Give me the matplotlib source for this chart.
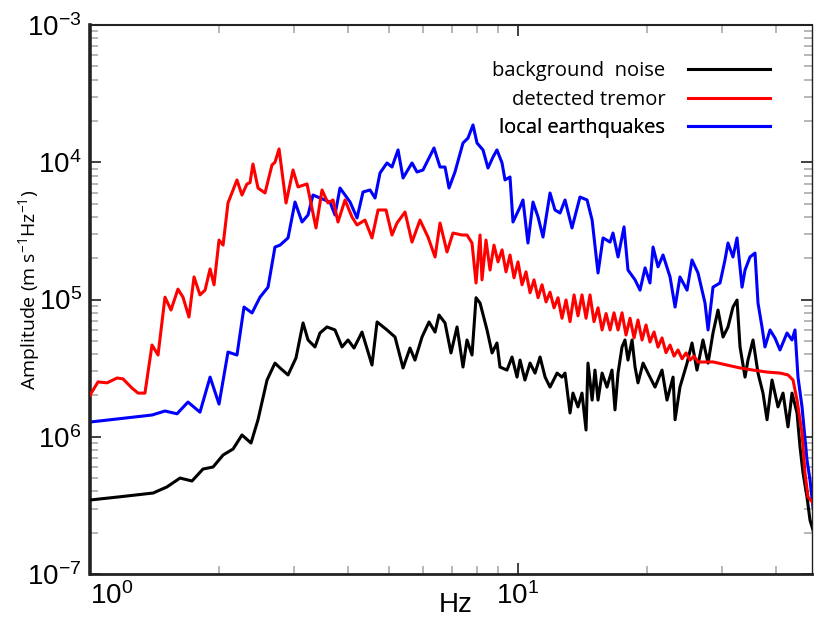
import numpy as np
import matplotlib
matplotlib.use('Agg')
import matplotlib.pyplot as plt
from matplotlib.ticker import FixedLocator, FixedFormatter, LogLocator, NullFormatter

# spectra (Hz, m s^-1 Hz^-1)
noise_hz = [1.00, 1.163, 1.404, 1.513, 1.623, 1.731, 1.837, 1.939, 2.046, 2.159,
            2.265, 2.378, 2.469, 2.592, 2.705, 2.780, 2.902, 3.029, 3.146, 3.232,
            3.355, 3.446, 3.579, 3.736, 3.880, 4.007, 4.139, 4.320, 4.559, 4.685,
            4.942, 5.160, 5.388, 5.593, 5.745, 5.967, 6.196, 6.400, 6.538, 6.753,
            6.973, 7.204, 7.438, 7.600, 7.808, 7.979,
            8.153, 8.465, 8.697, 8.930, 9.076, 9.425, 9.683, 9.947, 10.11, 10.38,
            10.67, 10.96, 11.26, 11.57, 11.88, 12.34, 12.67, 12.88, 13.23, 13.44,
            13.81, 14.11, 14.42, 14.57, 14.90, 15.13, 15.38, 15.72, 16.14, 16.58,
            16.85, 17.13, 17.50, 17.78, 18.07, 18.47, 18.77, 19.07, 19.60, 20.12,
            20.90, 21.70, 22.29, 23.03, 23.28, 23.90, 24.83, 25.50, 26.19, 27.05,
            27.80, 28.55, 29.33, 30.13, 30.95, 31.79, 32.49, 33.02, 33.92, 34.46,
            35.41, 36.37, 37.36, 38.18, 39.22, 40.50, 41.61, 42.74, 43.67, 44.87,
            45.60, 46.34, 47.34, 48.11, 48.90]
noise_amp = [3.46e-7, 3.64e-7, 3.89e-7, 4.31e-7, 5.00e-7, 4.76e-7, 5.82e-7, 6.02e-7, 7.36e-7, 8.14e-7,
             1.03e-6, 9.00e-7, 1.33e-6, 2.59e-6, 3.44e-6, 3.17e-6, 2.82e-6, 3.75e-6, 6.75e-6, 5.07e-6,
             4.51e-6, 5.70e-6, 6.31e-6, 6.00e-6, 4.51e-6, 5.07e-6, 4.43e-6, 5.79e-6, 3.33e-6, 6.86e-6,
             6.00e-6, 5.33e-6, 3.17e-6, 4.43e-6, 3.62e-6, 5.33e-6, 6.86e-6, 5.79e-6, 7.71e-6, 6.75e-6,
             4.08e-6, 6.31e-6, 3.22e-6, 5.07e-6, 3.94e-6, 1.03e-5,
             9.43e-6, 6.00e-6, 4.08e-6, 4.82e-6, 3.22e-6, 3.06e-6, 3.81e-6, 2.72e-6, 3.62e-6, 2.59e-6,
             3.44e-6, 2.91e-6, 3.81e-6, 2.72e-6, 2.30e-6, 2.91e-6, 2.72e-6, 2.91e-6, 1.49e-6, 2.08e-6,
             1.65e-6, 2.08e-6, 1.12e-6, 3.44e-6, 1.85e-6, 3.06e-6, 1.85e-6, 2.91e-6, 2.30e-6, 3.06e-6,
             1.57e-6, 2.91e-6, 4.51e-6, 5.07e-6, 3.62e-6, 5.07e-6, 3.22e-6, 2.47e-6, 3.44e-6, 2.91e-6,
             2.30e-6, 3.06e-6, 1.85e-6, 2.72e-6, 1.33e-6, 2.30e-6, 3.44e-6, 4.82e-6, 3.06e-6, 5.07e-6,
             3.44e-6, 5.70e-6, 8.38e-6, 5.33e-6, 6.31e-6, 8.81e-6, 9.91e-6, 4.51e-6, 2.72e-6, 3.62e-6,
             5.07e-6, 2.91e-6, 2.08e-6, 1.33e-6, 2.59e-6, 1.65e-6, 2.08e-6, 1.18e-6, 2.08e-6, 1.49e-6,
             8.42e-7, 5.44e-7, 3.64e-7, 2.47e-7, 2.09e-7]

tremor_hz = [1.00, 1.044, 1.096, 1.157, 1.194, 1.254, 1.295, 1.344, 1.396, 1.442,
             1.497, 1.546, 1.605, 1.649, 1.703, 1.750, 1.807, 1.857, 1.908, 1.949,
             2.002, 2.046, 2.101, 2.205, 2.265, 2.327, 2.365, 2.403, 2.469, 2.564,
             2.662, 2.705, 2.765, 2.871, 2.981, 3.062, 3.214, 3.373, 3.484, 3.598,
             3.697, 3.797, 3.943, 4.094, 4.206, 4.390, 4.559, 4.710, 4.916, 5.077,
             5.216, 5.445, 5.654, 5.902, 6.162, 6.400, 6.574, 6.826, 7.048, 7.400,
             7.600, 7.808, 7.979, 8.153,
             8.239, 8.418, 8.603, 8.788, 8.981, 9.177, 9.376, 9.579, 9.788, 10.00,
             10.22, 10.44, 10.67, 10.90, 11.14, 11.38, 11.63, 11.88, 12.14, 12.40,
             12.67, 12.95, 13.23, 13.52, 13.81, 14.11, 14.42, 14.73, 15.05, 15.38,
             15.72, 16.06, 16.41, 16.76, 17.13, 17.50, 17.88, 18.27, 18.67, 19.07,
             19.49, 19.91, 20.34, 20.79, 21.24, 21.70, 22.17, 22.66, 23.15, 23.65,
             24.17, 24.70, 25.23, 25.78, 26.34,
             28.55, 30.78, 33.02, 35.41, 38.18, 40.94, 42.74, 43.91, 44.87, 46.09,
             46.84, 47.60, 48.90]
tremor_amp = [2.01e-6, 2.51e-6, 2.47e-6, 2.68e-6, 2.64e-6, 2.26e-6, 2.08e-6, 2.08e-6, 4.66e-6, 3.94e-6,
              1.04e-5, 8.38e-6, 1.19e-5, 1.04e-5, 7.45e-6, 1.46e-5, 1.08e-5, 1.17e-5, 1.67e-5, 1.28e-5,
              2.71e-5, 2.49e-5, 5.05e-5, 7.43e-5, 5.77e-5, 6.95e-5, 7.10e-5, 9.71e-5, 6.49e-5, 5.97e-5,
              9.55e-5, 1.00e-4, 1.25e-4, 5.05e-5, 8.78e-5, 6.61e-5, 6.95e-5, 3.32e-5, 6.28e-5, 5.05e-5,
              5.31e-5, 3.67e-5, 5.31e-5, 3.99e-5, 3.49e-5, 3.79e-5, 2.81e-5, 4.49e-5, 4.49e-5, 2.95e-5,
              3.61e-5, 4.34e-5, 2.62e-5, 3.79e-5, 2.85e-5, 2.04e-5, 3.61e-5, 2.22e-5, 3.05e-5, 2.95e-5,
              2.95e-5, 2.58e-5, 1.32e-5, 2.95e-5,
              1.39e-5, 2.71e-5, 1.64e-5, 2.49e-5, 1.88e-5, 2.30e-5, 1.59e-5, 2.11e-5, 1.44e-5, 1.88e-5,
              1.28e-5, 1.59e-5, 1.12e-5, 1.39e-5, 1.03e-5, 1.28e-5, 9.6e-6, 1.13e-5, 8.7e-6, 1.03e-5,
              7.3e-6, 9.92e-6, 6.9e-6, 1.08e-5, 7.6e-6, 1.08e-5, 7.3e-6, 1.08e-5, 6.9e-6, 8.7e-6,
              6.0e-6, 7.9e-6, 6.0e-6, 8.0e-6, 6.0e-6, 8.0e-6, 5.51e-6, 7.3e-6, 5.25e-6, 7.09e-6,
              5.07e-6, 6.52e-6, 4.9e-6, 5.8e-6, 4.5e-6, 5.25e-6, 4.1e-6, 4.66e-6, 3.87e-6, 4.29e-6,
              3.7e-6, 4.08e-6, 3.62e-6, 3.87e-6, 3.5e-6,
              3.51e-6, 3.33e-6, 3.17e-6, 3.06e-6, 2.96e-6, 2.91e-6, 2.82e-6, 2.59e-6, 1.85e-6, 1.06e-6,
              5.44e-7, 3.64e-7, 3.29e-7]

quake_hz = [1.00, 1.163, 1.396, 1.497, 1.597, 1.694, 1.807, 1.908, 2.002, 2.101,
            2.205, 2.290, 2.391, 2.496, 2.606, 2.705, 2.780, 2.902, 3.013, 3.129,
            3.232, 3.319, 3.446, 3.637, 3.736, 3.838, 4.052, 4.206, 4.344, 4.511,
            4.634, 4.760, 4.942, 5.077, 5.245, 5.388, 5.654, 5.808, 5.998, 6.364,
            6.574, 6.753, 6.900, 7.124, 7.438, 7.641, 7.850, 8.022, 8.283, 8.509,
            8.741, 8.930, 9.177, 9.325, 9.579, 9.734, 10.11, 10.27, 10.55, 10.84,
            11.14, 11.44, 11.88, 12.20, 12.54, 12.88, 13.37, 13.96, 14.50, 14.90,
            15.38, 15.80, 16.41, 16.67, 17.13, 17.69, 18.07, 18.77, 19.28, 19.81,
            20.34, 20.68, 21.24, 21.82, 22.66, 23.28, 23.90, 24.83, 25.50, 26.34,
            27.35, 27.80, 28.55, 29.65, 30.45, 30.95, 31.79, 32.49, 33.38, 33.92,
            34.84, 35.79, 36.37, 37.16, 37.76, 38.80, 39.85, 40.94, 42.51, 43.67,
            44.38, 45.10, 46.09, 47.34, 48.11, 48.90]
quake_amp = [1.28e-6, 1.35e-6, 1.44e-6, 1.54e-6, 1.47e-6, 1.79e-6, 1.51e-6, 2.72e-6, 1.73e-6, 4.14e-6,
             3.94e-6, 8.81e-6, 7.98e-6, 1.04e-5, 1.23e-5, 2.41e-5, 2.49e-5, 2.81e-5, 5.13e-5, 3.67e-5,
             4.13e-5, 5.77e-5, 5.49e-5, 5.13e-5, 4.13e-5, 6.49e-5, 5.13e-5, 3.93e-5, 6.07e-5, 6.28e-5,
             5.49e-5, 8.35e-5, 9.88e-5, 9.23e-5, 1.23e-4, 7.68e-5, 9.88e-5, 8.49e-5, 8.78e-5, 1.27e-4,
             9.23e-5, 9.23e-5, 6.49e-5, 8.49e-5, 1.38e-4, 1.50e-4, 1.87e-4, 1.38e-4, 1.23e-4, 9.08e-5,
             1.09e-4, 1.23e-4, 9.88e-5, 7.43e-5, 7.81e-5, 3.67e-5, 4.72e-5, 5.31e-5, 2.58e-5, 5.13e-5,
             3.99e-5, 2.85e-5, 5.97e-5, 4.49e-5, 4.27e-5, 5.31e-5, 3.32e-5, 5.58e-5, 5.31e-5, 3.79e-5,
             1.56e-5, 2.81e-5, 2.62e-5, 3.05e-5, 2.04e-5, 3.38e-5, 1.64e-5, 1.39e-5, 1.17e-5, 1.70e-5,
             1.32e-5, 2.41e-5, 1.73e-5, 2.11e-5, 1.46e-5, 8.81e-6, 1.46e-5, 1.17e-5, 1.94e-5, 1.56e-5,
             9.42e-6, 6.00e-6, 1.23e-5, 1.32e-5, 1.94e-5, 2.58e-5, 2.04e-5, 2.81e-5, 1.23e-5, 1.64e-5,
             2.04e-5, 2.18e-5, 9.42e-6, 6.31e-6, 4.51e-6, 6.00e-6, 5.24e-6, 4.29e-6, 5.70e-6, 5.07e-6,
             6.00e-6, 2.72e-6, 1.65e-6, 6.78e-7, 4.84e-7, 3.08e-7]

labels = ['background  noise', 'detected tremor', 'local earthquakes']
colors = ['black', '#ff0000', '#0000ff']
ytick_vals = [1e-3, 1e-4, 1e-5, 1e-6, 1e-7]
ytick_labels = [r'$10^{-3}$', r'$10^{4}$', r'$10^{5}$', r'$10^{6}$', r'$10^{-7}$']
xtick_vals = [1, 10]
xtick_labels = [r'$10^{0}$', r'$10^{1}$']

plt.rcParams['font.family'] = ['Liberation Sans', 'DejaVu Sans']
plt.rcParams['mathtext.default'] = 'regular'

fig = plt.figure(figsize=(8.14, 6.23), dpi=100)
ax = fig.add_axes([90 / 814, 49 / 623, 722 / 814, 549 / 623])

ax.plot(quake_hz, quake_amp, color=colors[2], lw=2.2, zorder=2)
ax.plot(noise_hz, noise_amp, color=colors[0], lw=2.2, zorder=3)
ax.plot(tremor_hz, tremor_amp, color=colors[1], lw=2.2, zorder=4)

ax.set_xscale('log')
ax.set_yscale('log')
ax.set_xlim(1, 10 ** (722 / 428))
ax.set_ylim(1e-7, 1e-3)

ax.yaxis.set_major_locator(FixedLocator(ytick_vals))
ax.yaxis.set_major_formatter(FixedFormatter(ytick_labels))
ax.yaxis.set_minor_locator(LogLocator(base=10, subs=np.arange(2, 10), numticks=20))
ax.yaxis.set_minor_formatter(NullFormatter())
ax.xaxis.set_major_locator(FixedLocator(xtick_vals))
ax.xaxis.set_major_formatter(FixedFormatter(xtick_labels))
ax.xaxis.set_minor_locator(LogLocator(base=10, subs=np.arange(2, 10), numticks=20))
ax.xaxis.set_minor_formatter(NullFormatter())

ax.tick_params(which='both', direction='in', top=True, right=True)
ax.tick_params(which='major', length=8, width=1.3, color='#333333', labelsize=20, pad=6)
ax.tick_params(which='minor', length=6, width=1.2, color='#aaaaaa')
ax.get_xticklabels()[0].set_horizontalalignment('left')

ax.spines['left'].set_linewidth(2.6)
ax.spines['bottom'].set_linewidth(2.0)
ax.spines['top'].set_linewidth(1.5)
ax.spines['right'].set_linewidth(1.0)
for s in ax.spines.values():
    s.set_color('#222222')

ax.set_xlabel('Hz', fontsize=20, va='center')
ax.xaxis.set_label_coords(0.506, -0.057)
ax.set_ylabel(r'Amplitude (m s$^{-1}$Hz$^{-1}$)', fontsize=14, family='Open Sans', va='center')
ax.yaxis.set_label_coords(-0.085, 0.517)

# one legend per row so the labels line up on the right
handles = ax.get_lines()
order = [handles[1], handles[2], handles[0]]
anchors = [0.934, 0.881, 0.831]
for h, lab, y in zip(order, labels, anchors):
    leg = ax.legend([h], [lab], loc='upper right', bbox_to_anchor=(0.942, y),
                    frameon=False, markerfirst=False, handlelength=4.1,
                    handletextpad=1.1, borderpad=0, borderaxespad=0,
                    prop={'family': 'Open Sans', 'size': 14.5})
    ax.add_artist(leg)

fig.savefig('out.png', dpi=100)
